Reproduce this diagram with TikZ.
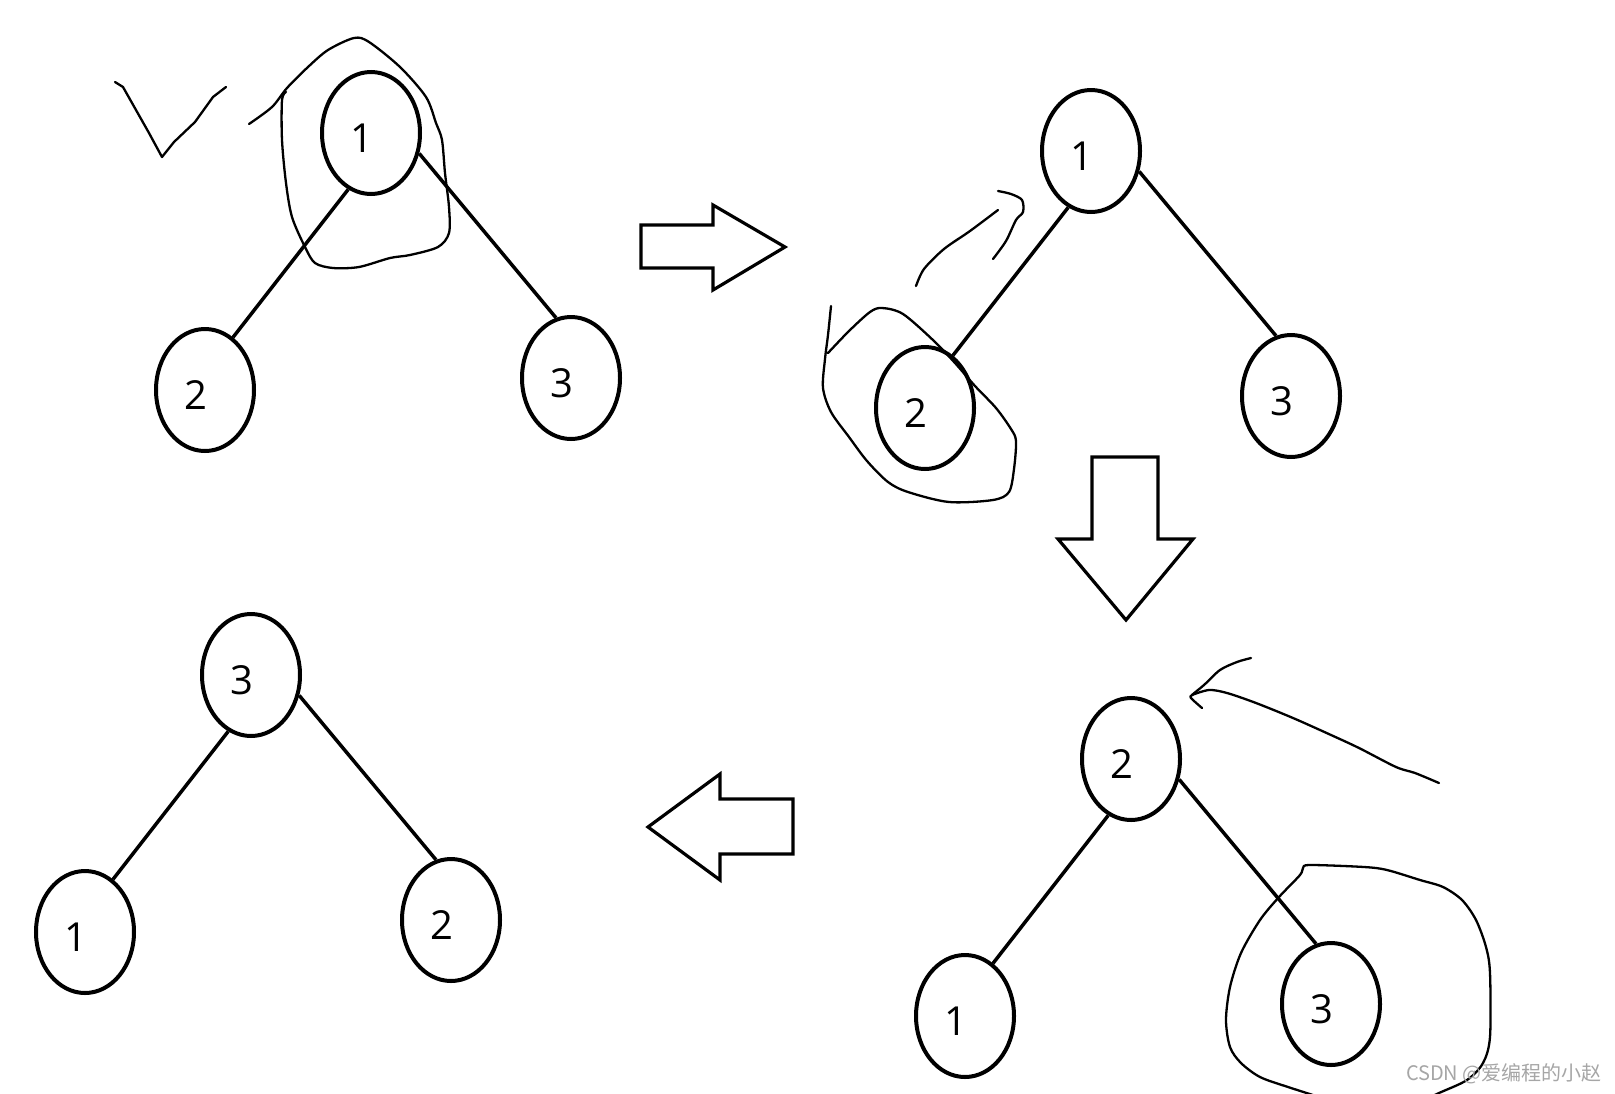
\documentclass[tikz,border=0pt]{standalone}
\usepackage{fontspec}
\setmainfont{Open Sans}
\newfontfamily\cjkfont{Noto Sans CJK SC}
\usetikzlibrary{shapes.geometric,positioning}

\begin{document}
\begin{tikzpicture}[x=1pt,y=-1pt,every node/.style={font=\fontsize{40}{42}\selectfont},vtx/.style={draw,ellipse,line width=4pt,minimum width=98pt,minimum height=122pt,inner sep=0pt,text height=38pt,text depth=0pt,execute at begin node={\hspace*{-18pt}}},lkid/.style={below=131pt of #1,xshift=-166pt},rkid/.style={below=119pt of #1,xshift=200pt},link/.style={line width=3.5pt},blk/.style={draw,line width=3.2pt,line join=miter},pen/.style={line width=2.3pt,line cap=round,line join=round}]
\fill[white] (0,0) rectangle (1615,1093);
\useasboundingbox (0,0) rectangle (1615,1093);
\node[vtx] (a1) at (371,133) {1};
\node[vtx,lkid=a1] (a2) {2};
\node[vtx,rkid=a1] (a3) {3};
\draw[link] (a1.248) -- (a2.62); \draw[link] (a1.-23) -- (a3.104);
\node[vtx] (b1) at (1091,151) {1};
\node[vtx,lkid=b1] (b2) {2};
\node[vtx,rkid=b1] (b3) {3};
\draw[link] (b1.248) -- (b2.62); \draw[link] (b1.-23) -- (b3.104);
\node[vtx] (c2) at (1131,759) {2};
\node[vtx,lkid=c2] (c1) {1};
\node[vtx,rkid=c2] (c3) {3};
\draw[link] (c2.248) -- (c1.62); \draw[link] (c2.-23) -- (c3.104);
\node[vtx] (d3) at (251,675) {3};
\node[vtx,lkid=d3] (d1) {1};
\node[vtx,rkid=d3] (d2) {2};
\draw[link] (d3.248) -- (d1.62); \draw[link] (d3.-23) -- (d2.104);
\draw[blk] (641,225) -- (713,225) -- (713,205) -- (785,247) -- (713,290) -- (713,268) -- (641,268) -- cycle;
\draw[blk] (1092,457) -- (1158,457) -- (1158,539) -- (1193,539) -- (1126,620) -- (1058,539) -- (1092,539) -- cycle;
\draw[blk] (648,827) -- (720,774) -- (720,799) -- (793,799) -- (793,854) -- (720,854) -- (720,880) -- cycle;
\draw[pen] (115,82) -- (123,87) -- (136,110) -- (149,133) -- (162,157) -- (174,142) -- (195,122) -- (213,97) -- (226,87);
\draw[pen] plot[smooth] coordinates {(249,124) (272,107) (287,88) (308,67) (328,50) (354,38) (369,42) (400,67) (426,97) (436,123) (442,140) (445,173) (449,207) (449,233) (438,247) (410,255) (390,258) (359,267) (333,268) (315,263) (305,247) (292,217) (286,183) (282,140) (282,100) (286,92)};
\draw[pen] plot[smooth] coordinates {(916,286) (924,269) (944,249) (970,231) (998,210)};
\draw[pen] plot[smooth] coordinates {(998,191) (1011,194) (1022,200) (1023,212) (1016,220) (1006,241) (993,259)};
\draw[pen] plot[smooth] coordinates {(831,306) (828,335) (825,359) (823,388) (831,412) (849,437) (867,461) (888,482) (908,492) (949,502) (993,500) (1009,492) (1014,469) (1016,441) (1011,429) (996,408) (975,386) (955,363) (934,341) (903,314) (882,308) (870,312) (849,331) (828,353)};
\draw[pen] plot[smooth] coordinates {(1251,658) (1237,662) (1220,670) (1204,685) (1192,695) (1191,698) (1202,708)};
\draw[pen] plot[smooth] coordinates {(1192,695) (1209,690) (1227,693) (1256,703) (1293,718) (1331,735) (1359,748) (1396,767) (1415,773) (1439,783)};
\draw[pen] plot[smooth] coordinates {(1335,1102) (1288,1087) (1260,1077) (1241,1063) (1230,1047) (1226,1020) (1230,987) (1241,953) (1260,920) (1279,897) (1300,875) (1303,868) (1310,865) (1364,867) (1387,870) (1420,880) (1443,887) (1462,900) (1476,920) (1486,947) (1490,973) (1490,1037) (1483,1063) (1467,1080) (1439,1093) (1420,1102)};
\node[font=\cjkfont\fontsize{20}{23}\selectfont,text=gray!70,anchor=east,inner sep=0pt] (mark) at (1602,1074) {CSDN @爱编程的小赵};
\end{tikzpicture}
\end{document}
